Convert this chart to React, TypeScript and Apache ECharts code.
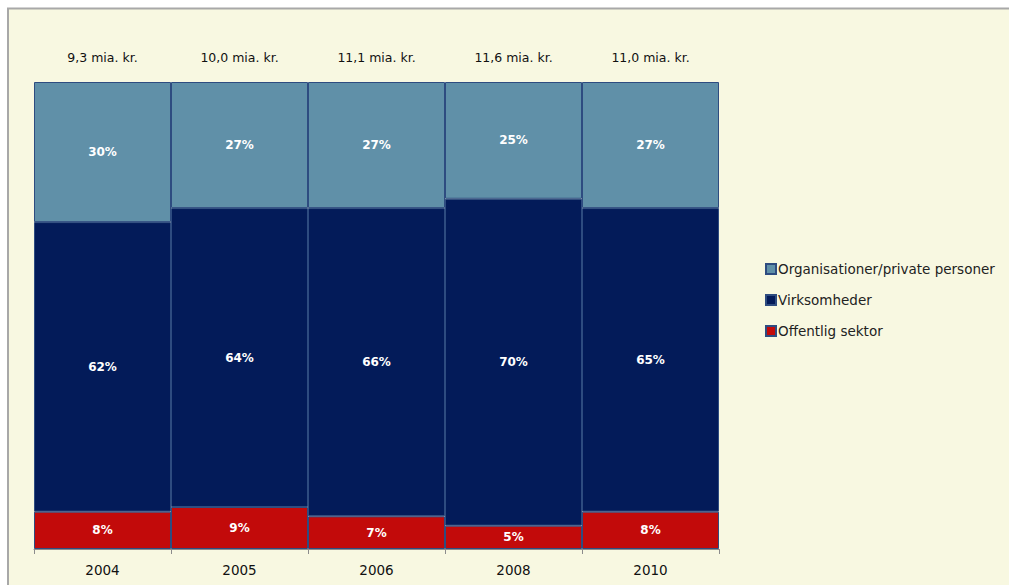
import React, { useEffect, useRef } from "react";
import * as echarts from "echarts";

const years = ["2004", "2005", "2006", "2008", "2010"];
const totals = ["9,3 mia. kr.", "10,0 mia. kr.", "11,1 mia. kr.", "11,6 mia. kr.", "11,0 mia. kr."];
const offentlig = [8, 9, 7, 5, 8];
const virksomheder = [62, 64, 66, 70, 65];
const organisationer = [30, 27, 27, 25, 27];

const FONT = "DejaVu Sans";

export default function App() {
  const ref = useRef<HTMLDivElement>(null);
  useEffect(() => {
    document.body.style.margin = "0";
    const chart = echarts.init(ref.current!, null, { renderer: "svg" });
    const label = {
      show: true,
      position: "inside",
      color: "#ffffff",
      fontFamily: FONT,
      fontWeight: "bold",
      fontSize: 12,
      formatter: (p: any) => `${p.value}%`,
    };
    const mk = (name: string, data: number[], color: string) => ({
      name,
      type: "bar",
      stack: "total",
      data,
      barCategoryGap: "0%",
      itemStyle: { color, borderColor: "#2E4C80", borderWidth: 1 },
      label,
      emphasis: { disabled: true },
    });
    chart.setOption({
      animation: false,
      backgroundColor: "#ffffff",
      graphic: [
        {
          type: "rect",
          z: -10,
          shape: { x: 8, y: 8.5, width: 1020, height: 620 },
          style: { fill: "#F8F8E1", stroke: "#A8A8A8", lineWidth: 2 },
          silent: true,
        },
      ],
      grid: { left: 34, right: 290, top: 82, bottom: 36, containLabel: false },
      legend: {
        orient: "vertical",
        left: 760,
        top: 257,
        itemWidth: 10,
        itemHeight: 10,
        itemGap: 17,
        icon: "rect",
        data: ["Organisationer/private personer", "Virksomheder", "Offentlig sektor"],
        textStyle: { fontFamily: FONT, fontSize: 13.5, color: "#222", padding: [0, 0, 0, -3] },
        selectedMode: false,
      },
      xAxis: [
        {
          type: "category",
          data: years,
          position: "bottom",
          axisLine: { lineStyle: { color: "#8C8C8C", width: 1 } },
          axisTick: { show: true, length: 5, lineStyle: { color: "#8C8C8C" } },
          axisLabel: { color: "#111", fontFamily: FONT, fontSize: 13.5, margin: 14 },
        },
        {
          type: "category",
          data: totals,
          position: "top",
          axisLine: { show: false },
          axisTick: { show: false },
          axisLabel: { color: "#111", fontFamily: FONT, fontSize: 12.5, margin: 18 },
        },
      ],
      yAxis: { type: "value", min: 0, max: 100, show: false },
      series: [
        mk("Offentlig sektor", offentlig, "#C20A0A"),
        mk("Virksomheder", virksomheder, "#031B59"),
        mk("Organisationer/private personer", organisationer, "#6090A8"),
      ],
    });
    return () => chart.dispose();
  }, []);
  return <div ref={ref} style={{ width: 1009, height: 585 }} />;
}
